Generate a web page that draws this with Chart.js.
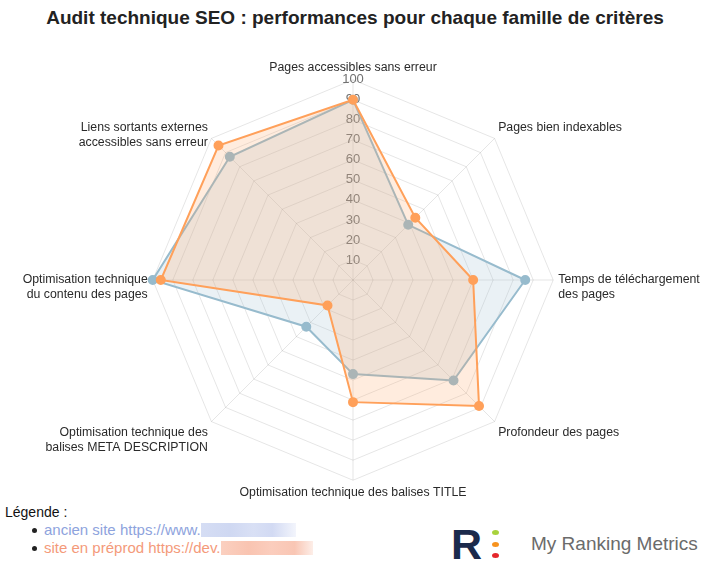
<!DOCTYPE html>
<html>
<head>
<meta charset="utf-8">
<script src="https://cdn.jsdelivr.net/npm/chart.js@4/dist/chart.umd.min.js"></script>
<style>
html,body{margin:0;padding:0;width:710px;height:570px;overflow:hidden;background:#fff;font-family:"Liberation Sans",Arial,Helvetica,sans-serif;}
#title{position:absolute;left:0;top:7px;width:710px;text-align:center;font-weight:bold;font-size:19px;line-height:22px;color:#222;white-space:nowrap;}
#wrap{position:absolute;left:-47px;top:60px;width:800px;height:440px;}
#legend{position:absolute;left:5px;top:503px;font-size:14px;line-height:18px;color:#111;}
.item{position:absolute;left:39px;white-space:nowrap;font-size:15px;}
.dot{position:absolute;left:-12px;top:7px;width:5px;height:5px;border-radius:50%;background:#222;}
.blur{display:inline-block;vertical-align:top;margin-top:2px;height:14px;}
#logoR{position:absolute;left:451px;top:521px;font-size:43px;line-height:46px;font-weight:bold;color:#1b2a4c;font-family:"Liberation Sans",Arial,sans-serif;}
.ld{position:absolute;left:492px;width:7px;height:5px;border-radius:50%;}
#logoT{position:absolute;left:531px;top:533px;font-size:19px;line-height:22px;color:#6b6b6b;white-space:nowrap;}
</style>
</head>
<body>
<div id="title">Audit technique SEO : performances pour chaque famille de critères</div>
<div id="wrap"><canvas id="c" width="800" height="440"></canvas></div>
<div id="legend">
  <div style="position:absolute;left:0;top:0;white-space:nowrap;">Légende :</div>
  <div class="item" style="top:18px;color:#8ea3dd;"><span class="dot"></span>ancien site https://www.<span class="blur" style="width:95px;background:linear-gradient(90deg,#d5ddf4 0%,#cfd8f2 30%,#d9e0f5 55%,#d2daf3 75%,#f3f5fc 100%);"></span></div>
  <div class="item" style="top:36px;color:#f49a7a;"><span class="dot"></span>site en préprod https://dev.<span class="blur" style="width:92px;background:linear-gradient(90deg,#fbd0c0 0%,#f9c4b1 30%,#fbcdbd 55%,#f9c6b4 80%,#fdeee8 100%);"></span></div>
</div>
<div id="logoR">R</div>
<div class="ld" style="top:530px;background:#a8d23c;"></div>
<div class="ld" style="top:542px;background:#f7931e;"></div>
<div class="ld" style="top:553px;background:#e5262b;"></div>
<div id="logoT">My Ranking Metrics</div>

<script>
const categories = [
  "Pages accessibles sans erreur",
  "Pages bien indexables",
  ["Temps de téléchargement", "des pages"],
  "Profondeur des pages",
  "Optimisation technique des balises TITLE",
  ["Optimisation technique des", "balises META DESCRIPTION"],
  ["Optimisation technique", "du contenu des pages"],
  ["Liens sortants externes", "accessibles sans erreur"]
];
const ancienSite = [90, 39, 86, 71, 47, 33, 100, 87];
const preprodSite = [90, 44, 60, 89, 61, 18, 96, 95];
const scaleMin = 0;
const scaleMax = 100;
const scaleStep = 10;
const seriesNames = ["site en préprod", "ancien site"];

Chart.defaults.font.family = '"Liberation Sans", Arial, Helvetica, sans-serif';

const labelFontSize = 12.3;

new Chart(document.getElementById('c'), {
  type: 'radar',
  data: {
    labels: categories,
    datasets: [
      {
        label: seriesNames[0],
        data: preprodSite,
        borderColor: 'rgba(255,160,90,1)',
        backgroundColor: 'rgba(255,160,90,0.2)',
        pointBackgroundColor: 'rgba(255,160,90,1)',
        pointBorderColor: 'rgba(255,160,90,1)',
        borderWidth: 2,
        pointRadius: 4,
        fill: true
      },
      {
        label: seriesNames[1],
        data: ancienSite,
        borderColor: 'rgba(151,187,205,1)',
        backgroundColor: 'rgba(151,187,205,0.2)',
        pointBackgroundColor: 'rgba(151,187,205,1)',
        pointBorderColor: 'rgba(151,187,205,1)',
        borderWidth: 2,
        pointRadius: 4,
        fill: true
      }
    ]
  },
  options: {
    responsive: false,
    animation: false,
    plugins: { legend: { display: false }, tooltip: { enabled: false }, title: { display: false } },
    elements: { line: { tension: 0 } },
    scales: {
      r: {
        min: scaleMin,
        max: scaleMax,
        beginAtZero: true,
        ticks: { stepSize: scaleStep, color: '#707070', font: { size: 13 }, showLabelBackdrop: false },
        grid: { color: 'rgba(0,0,0,0.1)' },
        angleLines: { color: 'rgba(0,0,0,0.1)' },
        pointLabels: { font: { size: labelFontSize }, color: '#2a2a2a', padding: -3.5 },
        afterFit: (scale) => {
          const items = scale._pointLabelItems;
          if (!items) return;
          const lh = labelFontSize * 1.2;
          items.forEach((it, i) => {
            const lbl = scale._pointLabels[i];
            const n = Array.isArray(lbl) ? lbl.length : 1;
            if (n < 2) return;
            const a = Math.round(scale.getIndexAngle(i) * 180 / Math.PI) % 360;
            let dy = 0;
            if (a === 90 || a === 270) dy = (n - 1) * lh / 2;
            else if (a > 270 || a < 90) dy = (n - 1) * lh;
            it.y += dy; it.top += dy; it.bottom += dy;
          });
        }
      }
    }
  }
});
</script>
</body>
</html>
